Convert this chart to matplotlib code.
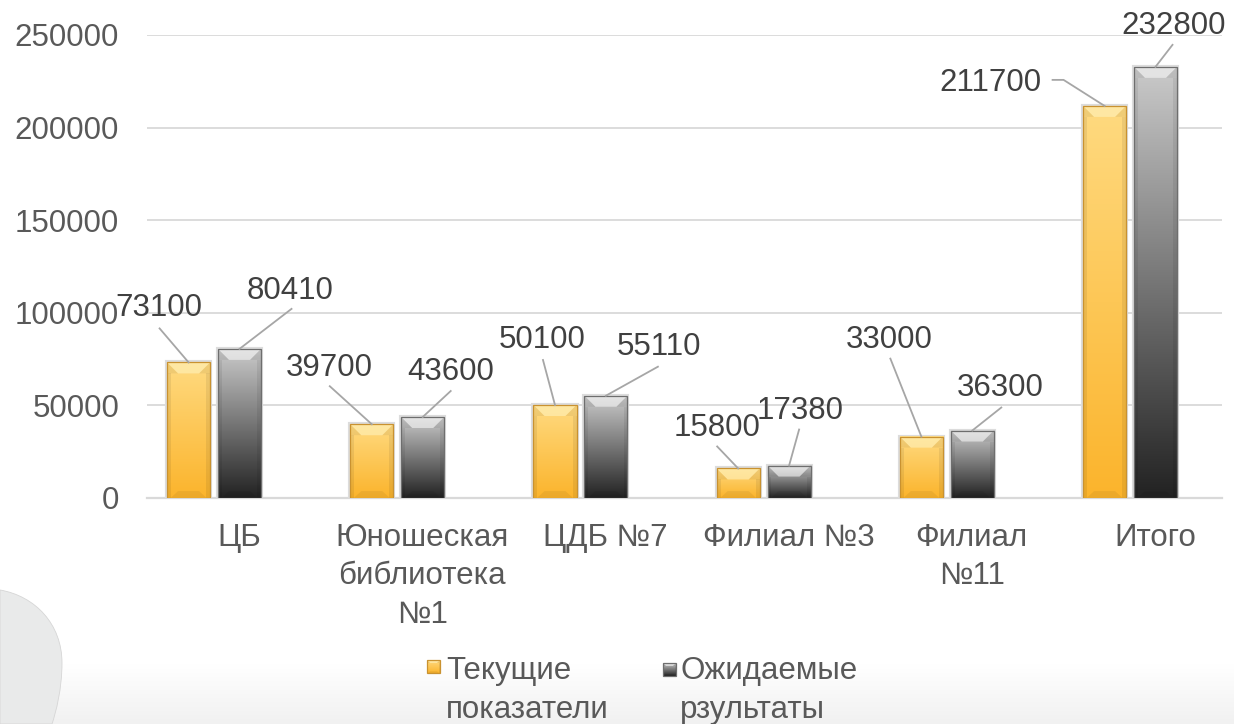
import numpy as np
import matplotlib
matplotlib.use('Agg')
import matplotlib.pyplot as plt
from matplotlib.colors import LinearSegmentedColormap
from matplotlib.patches import Rectangle, Polygon, PathPatch
from matplotlib.path import Path
from matplotlib.lines import Line2D
from matplotlib.transforms import IdentityTransform

""" Data """

categories = ['ЦБ', 'Юношеская\nбиблиотека\n№1', 'ЦДБ №7', 'Филиал №3', 'Филиал\n№11', 'Итого']
current = [73100, 39700, 50100, 15800, 33000, 211700]
expected = [80410, 43600, 55110, 17380, 36300, 232800]
series_names = ['Текущие\nпоказатели', 'Ожидаемые\nрзультаты']
yticks = [0, 50000, 100000, 150000, 200000, 250000]

# data label placement, in pixels from the top of each bar (x right, y up)
cur_text = [(-30, 58), (-43, 59), (-13, 68), (-21, 44), (-32, 100), (-114, 26)]
cur_line = [[(-29, 34)], [(-42, 38)], [(-12, 45)], [(-21, 22)], [(-31, 78)], [(-52, 26), (-41, 26)]]
exp_text = [(51, 61), (28, 48), (53, 52), (11, 58), (28, 46), (18, 44)]
exp_line = [[(52, 40)], [(28, 26)], [(52, 29)], [(10, 36)], [(29, 23)], [(17, 22)]]

""" Styles """

YELLOW = ('#FBB42C', '#FFDA80', '#C99230', '#FFF2BC')   # bottom, top, edge, bevel
GRAY = ('#222222', '#CACACA', '#6E6E6E', '#F6F6F6')
FONT = 'Liberation Sans'
FS = 22.5
W, H = 1234, 724

plt.rcParams['font.family'] = [FONT, 'DejaVu Sans']


def draw_bar(a, x0, x1, y0, y1, style, bx, by, shadow=True):
    bot, top, edge, bevel = style
    cmap = LinearSegmentedColormap.from_list('g', [bot, top])
    if shadow:
        a.add_patch(Rectangle((x0, y0), x1 - x0, y1 - y0, fill=False, ec='#DCDCDC',
                              lw=3, zorder=2))
    a.imshow(np.linspace(0, 1, 256)[:, None], extent=(x0, x1, y0, y1), origin='lower',
             cmap=cmap, aspect='auto', interpolation='bilinear', zorder=3)
    by = min(by, (y1 - y0) / 2.5)
    # top bevel
    a.add_patch(Polygon([(x0, y1), (x1, y1), (x1 - bx, y1 - by), (x0 + bx, y1 - by)],
                        closed=True, fc=bevel, ec='none', alpha=0.6, zorder=4))
    a.add_patch(Polygon([(x0, y1), (x0 + bx, y1 - by), (x0, y1 - by)],
                        closed=True, fc='black', ec='none', alpha=0.06, zorder=4))
    a.add_patch(Polygon([(x1, y1), (x1 - bx, y1 - by), (x1, y1 - by)],
                        closed=True, fc='black', ec='none', alpha=0.06, zorder=4))
    # side strips and bottom bevel
    sw = bx * 0.35
    a.add_patch(Rectangle((x0, y0), sw, y1 - y0 - by, fc='black', ec='none', alpha=0.07, zorder=4))
    a.add_patch(Rectangle((x1 - sw, y0), sw, y1 - y0 - by, fc='black', ec='none', alpha=0.07, zorder=4))
    a.add_patch(Polygon([(x0 + sw, y0), (x1 - sw, y0), (x1 - bx, y0 + by * 0.6), (x0 + bx, y0 + by * 0.6)],
                        closed=True, fc='black', ec='none', alpha=0.06, zorder=4))
    a.add_patch(Rectangle((x0, y0), x1 - x0, y1 - y0, fill=False, ec=edge, lw=0.9, zorder=5))


fig = plt.figure(figsize=(W / 100, H / 100), dpi=100)
fig.patch.set_facecolor('white')

""" Background """

bg = fig.add_axes([0, 0, 1, 1], zorder=-1)
bg.set_xlim(0, W)
bg.set_ylim(0, H)
bg.axis('off')
bcmap = LinearSegmentedColormap.from_list('bgc', ['#F1F1F1', '#FFFFFF'])
bg.imshow(np.linspace(0, 1, 64)[:, None], extent=(0, W, 0, 60), origin='lower',
          cmap=bcmap, aspect='auto', zorder=0)
verts = [(0, 134), (35, 128), (62, 100), (62, 61), (62, 35), (56, 12), (52, 0), (0, 0), (0, 134)]
codes = [Path.MOVETO, Path.CURVE4, Path.CURVE4, Path.CURVE4, Path.CURVE4, Path.CURVE4, Path.CURVE4,
         Path.LINETO, Path.CLOSEPOLY]
bg.add_patch(PathPatch(Path(verts, codes), fc='#E9EAEA', ec='#D6D6D6', lw=0.6, zorder=1))

""" Chart """

ax = fig.add_axes([147 / W, (H - 497.7) / H, 1075 / W, 462.7 / H])
ax.set_facecolor('none')

n = len(categories)
x = np.arange(n)
bw = 0.235
off = 0.139
xlim = (-0.366, 5.502)
ylim = (0, 250000)
ax.set_xlim(*xlim)
ax.set_ylim(*ylim)

sx, sy = ax.transData.transform((1, 1)) - ax.transData.transform((0, 0))
bx, by = 11 / sx, 11 / sy

for i in range(n):
    draw_bar(ax, x[i] - off - bw / 2, x[i] - off + bw / 2, 0, current[i], YELLOW, bx, by)
    draw_bar(ax, x[i] + off - bw / 2, x[i] + off + bw / 2, 0, expected[i], GRAY, bx, by)

ax.set_xlim(*xlim)
ax.set_ylim(*ylim)

ax.set_yticks(yticks)
ax.set_yticklabels([str(v) for v in yticks])
ax.yaxis.grid(True, color='#D9D9D9', lw=1.3)
ax.set_axisbelow(True)
ax.set_xticks(x + 0.136)
ax.set_xticklabels(categories, linespacing=1.38)
for s in ['top', 'right', 'left']:
    ax.spines[s].set_visible(False)
ax.spines['bottom'].set_color('#D9D9D9')
ax.spines['bottom'].set_linewidth(1.6)
ax.spines['bottom'].set_zorder(1)
ax.tick_params(axis='y', length=0, pad=20, labelsize=FS, labelcolor='#595959')
ax.tick_params(axis='x', length=0, pad=18, labelsize=FS, labelcolor='#595959')

""" Data labels with leader lines """

for vals, xs, texts, lines in [(current, x - off, cur_text, cur_line),
                               (expected, x + off, exp_text, exp_line)]:
    for i in range(n):
        px, py = ax.transData.transform((xs[i], vals[i]))
        dx, dy = texts[i]
        ax.annotate(str(vals[i]), xy=(px + dx, py + dy - 11.2), xycoords='figure pixels',
                    ha='center', va='baseline', fontsize=FS, color='#404040',
                    annotation_clip=False)
        lx = [px + p[0] for p in lines[i]] + [px]
        ly = [py + p[1] for p in lines[i]] + [py]
        fig.add_artist(Line2D(lx, ly, color='#A6A6A6', lw=1.3, transform=IdentityTransform(),
                              zorder=6))

""" Legend """

draw_bar(bg, 427, 440, 51, 64, YELLOW, 3, 3, shadow=False)
draw_bar(bg, 663, 676, 48, 61, GRAY, 3, 3, shadow=False)
fig.text(446 / W, 68 / H, series_names[0], ha='left', va='top', fontsize=FS,
         color='#595959', linespacing=1.38)
fig.text(680 / W, 68 / H, series_names[1], ha='left', va='top', fontsize=FS,
         color='#595959', linespacing=1.38)

fig.savefig('out.png', dpi=100, facecolor='white')
